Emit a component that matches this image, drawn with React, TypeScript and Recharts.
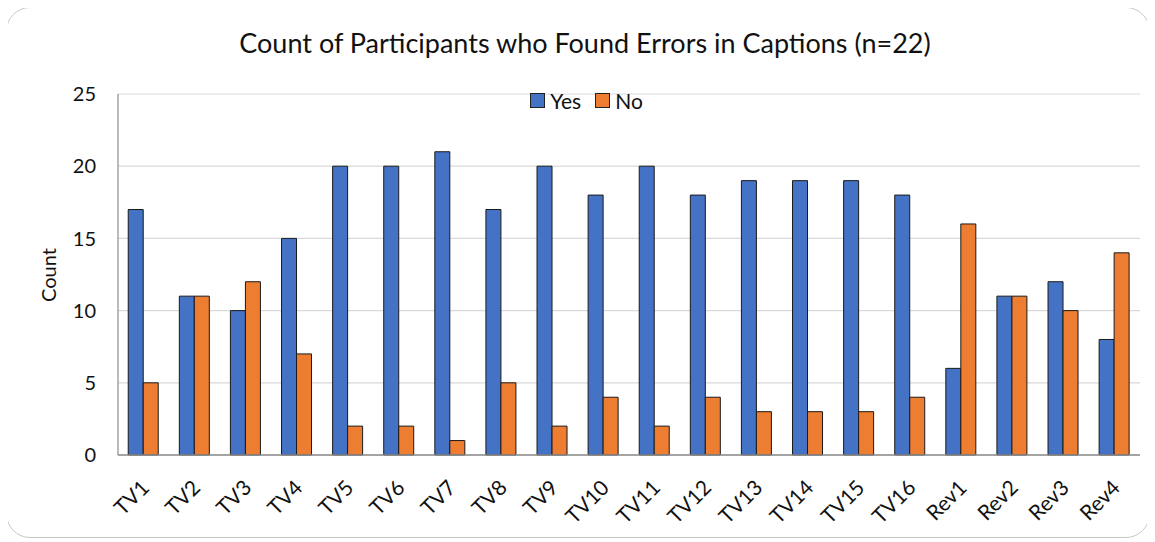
import React from "react";
import { BarChart, Bar, XAxis, YAxis, CartesianGrid, Legend } from "recharts";

const categories = ["TV1", "TV2", "TV3", "TV4", "TV5", "TV6", "TV7", "TV8", "TV9", "TV10", "TV11", "TV12", "TV13", "TV14", "TV15", "TV16", "Rev1", "Rev2", "Rev3", "Rev4"];
const yesValues = [17, 11, 10, 15, 20, 20, 21, 17, 20, 18, 20, 18, 19, 19, 19, 18, 6, 11, 12, 8];
const noValues = [5, 11, 12, 7, 2, 2, 1, 5, 2, 4, 2, 4, 3, 3, 3, 4, 16, 11, 10, 14];
const yTicks = [0, 5, 10, 15, 20, 25];

const FONT = "Lato, 'Open Sans', sans-serif";
const BLUE = "#4472C4";
const ORANGE = "#ED7D31";

const data = categories.map((name, i) => ({ name, yes: yesValues[i], no: noValues[i] }));

function XTick({ x, y, payload }: any) {
  return (
    <text
      x={x + 7}
      y={y + 34}
      transform={`rotate(-45, ${x + 7}, ${y + 34})`}
      textAnchor="end"
      fontSize={21}
      fontFamily={FONT}
      fill="#111"
    >
      {payload.value}
    </text>
  );
}

function LegendContent() {
  const item = (color: string, label: string) => (
    <span style={{ display: "inline-flex", alignItems: "center", marginRight: 14 }}>
      <span style={{ display: "inline-block", width: 13, height: 13, background: color, border: "1.2px solid #222", marginRight: 5 }} />
      <span>{label}</span>
    </span>
  );
  return (
    <div style={{ fontFamily: FONT, fontSize: 21, color: "#111", display: "flex", justifyContent: "center", paddingLeft: 32 }}>
      {item(BLUE, "Yes")}
      {item(ORANGE, "No")}
    </div>
  );
}

export default function App() {
  return (
    <div style={{ position: "relative", width: 1155, height: 542, margin: "-8px 0 0 -8px", background: "#fff" }}>
      <div
        style={{
          position: "absolute",
          left: 6,
          top: 7,
          width: 1144,
          height: 531,
          border: "1.5px solid #c8c8c8",
          borderRadius: 24,
          boxSizing: "border-box",
        }}
      />
      <div
        style={{
          position: "absolute",
          left: 0,
          width: 1170,
          top: 26,
          textAlign: "center",
          fontFamily: FONT,
          fontSize: 27,
          color: "#111",
        }}
      >
        Count of Participants who Found Errors in Captions (n=22)
      </div>
      <div
        style={{
          position: "absolute",
          left: 48,
          top: 275,
          transform: "translate(-50%, -50%) rotate(-90deg)",
          fontFamily: FONT,
          fontSize: 20,
          color: "#111",
        }}
      >
        Count
      </div>
      <div style={{ position: "absolute", left: 0, top: 0 }}>
        <BarChart
          width={1155}
          height={542}
          data={data}
          margin={{ top: 94, right: 15, left: 58, bottom: 17 }}
          barGap={0}
          barCategoryGap="20%"
        >
          <CartesianGrid vertical={false} stroke="#d9d9d9" strokeWidth={1.2} />
          <XAxis
            dataKey="name"
            interval={0}
            tickSize={0}
            tickMargin={0}
            height={70}
            tick={<XTick />}
            axisLine={{ stroke: "#8c8c8c", strokeWidth: 1.5 }}
          />
          <YAxis
            domain={[0, 25]}
            ticks={yTicks}
            width={60}
            tickSize={0}
            tickMargin={22}
            tick={{ fontSize: 20, fontFamily: FONT, fill: "#111" }}
            axisLine={{ stroke: "#8c8c8c", strokeWidth: 1.2 }}
          />
          <Legend
            verticalAlign="middle"
            layout="horizontal"
            content={<LegendContent />}
            wrapperStyle={{ top: 88, left: 0, width: 1155 }}
          />
          <Bar dataKey="yes" name="Yes" fill={BLUE} stroke="#1a1a1a" strokeWidth={1} isAnimationActive={false} />
          <Bar dataKey="no" name="No" fill={ORANGE} stroke="#1a1a1a" strokeWidth={1} isAnimationActive={false} />
        </BarChart>
      </div>
    </div>
  );
}
